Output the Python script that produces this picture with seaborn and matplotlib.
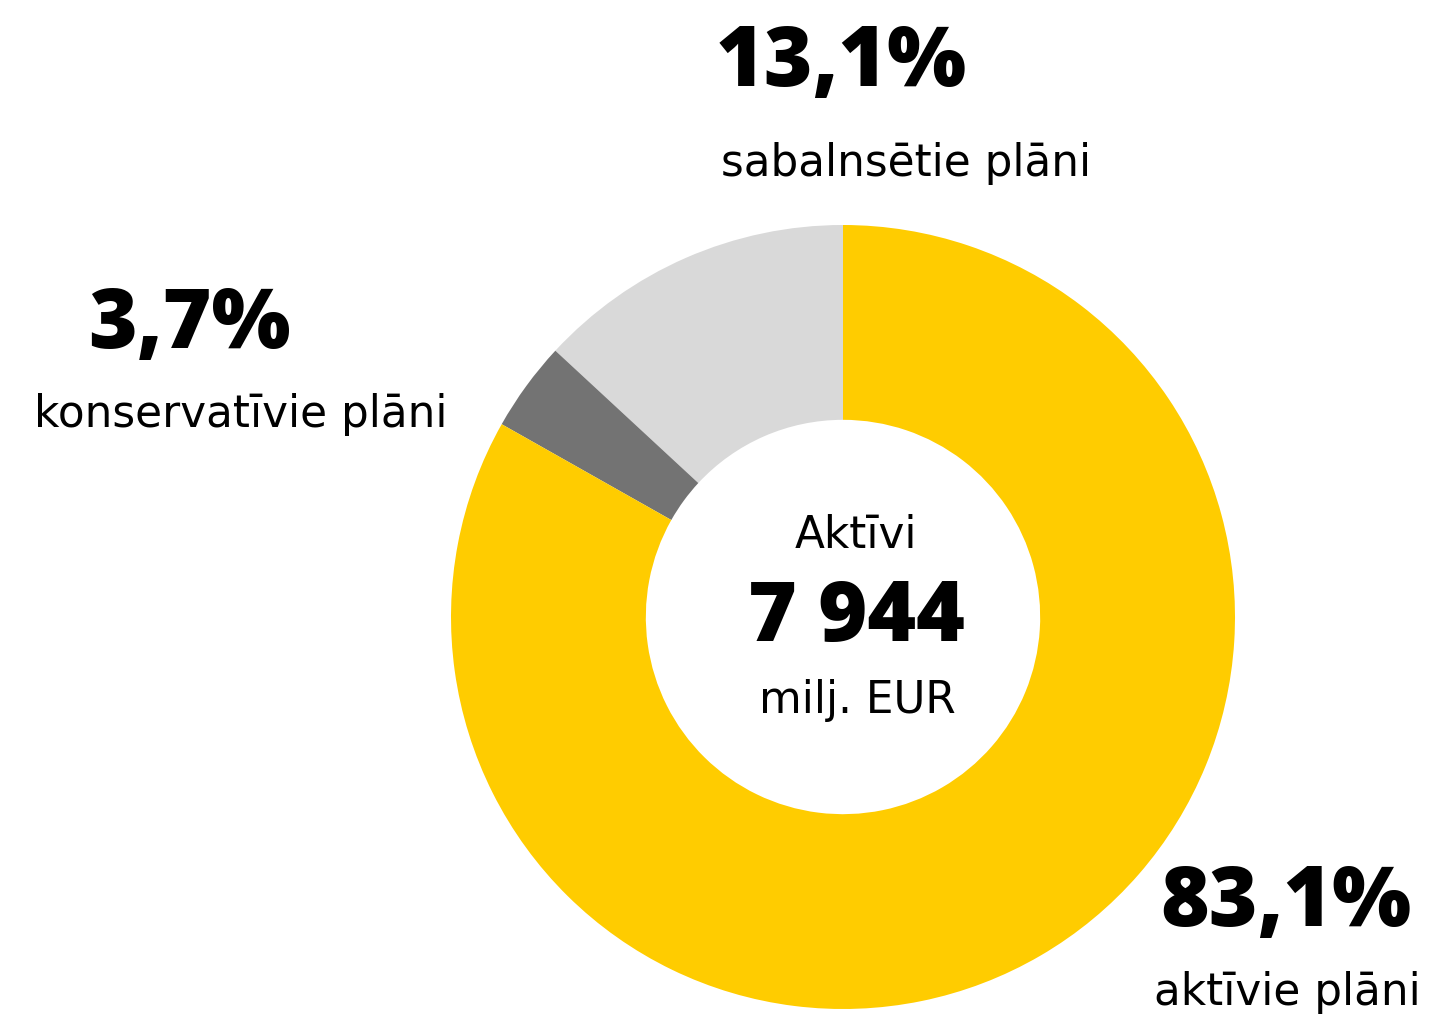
import matplotlib
matplotlib.use("Agg")
import matplotlib.pyplot as plt
import seaborn as sns

# data
categories = ["sabalnsētie plāni", "konservatīvie plāni", "aktīvie plāni"]
shares = [13.1, 3.7, 83.1]
share_labels = ["13,1%", "3,7%", "83,1%"]
colors = ["#D9D9D9", "#737373", "#FFCC00"]
center_title = "Aktīvi"
center_value = "7 944"
center_unit = "milj. EUR"

sns.set_theme(style="white")
plt.rcParams['font.family'] = ['Open Sans', 'DejaVu Sans']

W, H = 1431, 1014
fig = plt.figure(figsize=(W / 100, H / 100), dpi=100)

# donut axes: centre (843, 617) px, radius 392 px
cx, cy, r = 843, 617, 392
ax = fig.add_axes([(cx - r) / W, (H - cy - r) / H, 2 * r / W, 2 * r / H])
ax.pie(shares, colors=colors, startangle=90, counterclock=True, radius=1,
       wedgeprops=dict(width=0.497, linewidth=0))
ax.set_xlim(-1, 1)
ax.set_ylim(-1, 1)
ax.set_aspect("equal")
ax.axis("off")


def px_text(x, y, s, size, weight="normal", family=None):
    fig.text(x / W, 1 - y / H, s, fontsize=size, fontweight=weight,
             ha="center", va="center", color="black",
             family=family or ['Open Sans', 'DejaVu Sans'])


regular = ['DejaVu Sans']

# label positions in pixels (x, y) for percentage and category name
pct_pos = [(841, 64), (189, 326), (1286, 905)]
name_pos = [(906, 164), (241, 414), (1287, 993)]
for lab, name, p, n in zip(share_labels, categories, pct_pos, name_pos):
    px_text(*p, lab, 60, "heavy")
    px_text(*n, name, 31.5, family=regular)

px_text(856, 535, center_title, 31.5, family=regular)
px_text(856, 619, center_value, 60, "heavy")
px_text(857, 701, center_unit, 31.5, family=regular)

fig.savefig("out.png", dpi=100, facecolor="white")
